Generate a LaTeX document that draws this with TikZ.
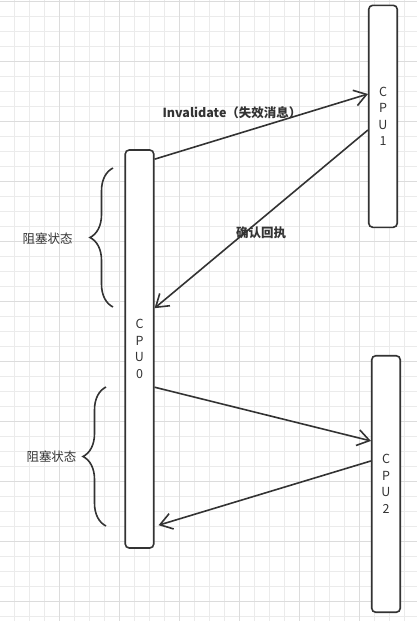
\documentclass[tikz,border=0pt]{standalone}
\usepackage{fontspec}
\setmainfont{Noto Sans CJK SC}
\usetikzlibrary{arrows.meta,calc,decorations.pathreplacing}
\definecolor{ink}{HTML}{333333}
\definecolor{grid minor}{HTML}{EBEBEB}
\definecolor{grid major}{HTML}{DCDCDC}
\tikzset{cpu/.style={draw=ink, fill=white, line width=1.6pt, rounded corners=4pt,
		minimum width=28.5pt, inner sep=0pt, align=center, text=ink,
		font=\fontsize{12.5}{16.5}\selectfont},
	msg/.style={draw=ink, line width=1.6pt, -{Straight Barb[length=12pt,width=16pt]}},
	blocked/.style={draw=ink, line width=1.6pt, decorate, decoration={brace, amplitude=23pt}},
	note/.style={text=ink, font=\fontsize{12.5}{15}\selectfont}}

\begin{document}
\begin{tikzpicture}[x=1pt, y=-1pt]
		\useasboundingbox (0,0) rectangle (417,621);
		\foreach \k in {1,...,27} \draw[grid minor, line width=1pt] ({15*\k-0.5},0) -- ({15*\k-0.5},621);
		\foreach \k in {0,...,41} \draw[grid minor, line width=1pt] (0,{15*\k+1}) -- (417,{15*\k+1});
		\foreach \k in {1,...,6} \draw[grid major, line width=1pt] ({60*\k-0.5},0) -- ({60*\k-0.5},621);
		\foreach \k in {0,...,10} \draw[grid major, line width=1pt] (0,{60*\k+1}) -- (417,{60*\k+1});
		
		\node[cpu, minimum height=398pt] (cpu0) at (139.5,349) {C\\P\\U\\0};
		\node[cpu, minimum height=222pt] (cpu1) at (383,116.3) {C\\P\\U\\1};
		\node[cpu, minimum height=256.5pt] (cpu2) at (386,484) {C\\P\\U\\2};
		
		\draw[msg] ($(cpu0.north east)+(0,10)$) -- ($(cpu1.north west)+(0,89.5)$);
		\draw[msg] ($(cpu1.north west)+(0,125.5)$) -- ($(cpu0.north east)+(0,159)$);
		\draw[msg] ($(cpu0.north east)+(0,238)$) -- ($(cpu2.north west)+(0,86)$);
		\draw[msg] ($(cpu2.north west)+(0,106)$) -- ($(cpu0.north east)+(4,376)$);
		\node[note, font=\fontsize{12.5}{15}\selectfont\bfseries] (inv) at (232,113) {Invalidate（失效消息）};
		\node[note, font=\fontsize{12.5}{15}\selectfont\bfseries] (ack) at (261,233) {确认回执};
		
		\draw[blocked] (113,307) -- (113,168);
		\node[note] (wait1) at (47.5,239) {阻塞状态};
		\draw[blocked] (106,526) -- (106,387);
		\node[note] (wait2) at (51.5,457) {阻塞状态};
		\end{tikzpicture}
\end{document}
